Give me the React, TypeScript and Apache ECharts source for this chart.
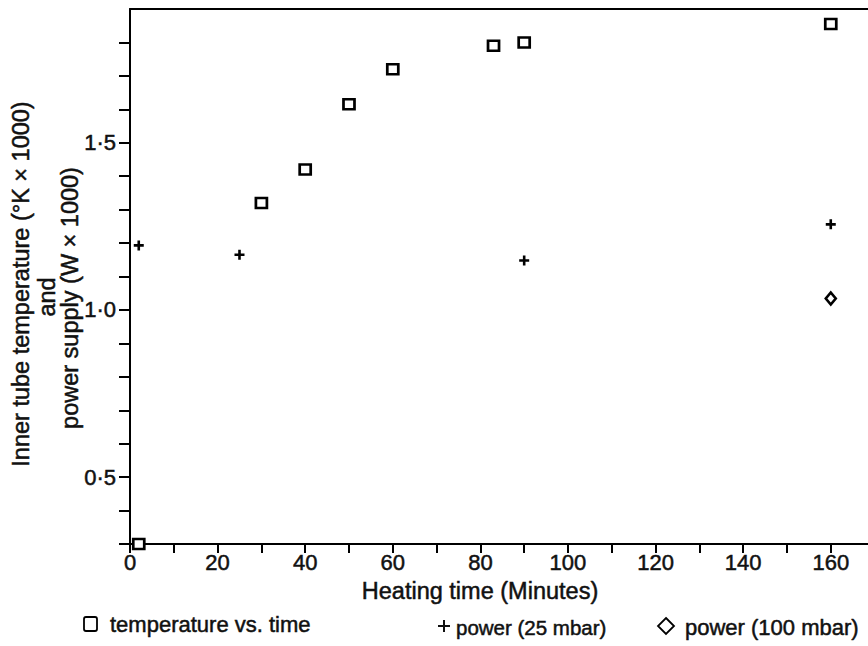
import React, { useEffect, useRef } from "react";
import * as echarts from "echarts";

// ---- data ----
const tempX = [2, 30, 40, 50, 60, 83, 90, 160];
const tempY = [0.3, 1.32, 1.42, 1.615, 1.72, 1.79, 1.8, 1.855];

const pow25X = [2, 25, 90, 160];
const pow25Y = [1.193, 1.165, 1.148, 1.256];

const pow100X = [160];
const pow100Y = [1.034];

const xTickValues = [0, 10, 20, 30, 40, 50, 60, 70, 80, 90, 100, 110, 120, 130, 140, 150, 160];
const xLabelValues = [0, 20, 40, 60, 80, 100, 120, 140, 160];
const yTickValues = [0.3, 0.4, 0.5, 0.6, 0.7, 0.8, 0.9, 1.0, 1.1, 1.2, 1.3, 1.4, 1.5, 1.6, 1.7, 1.8];
const yLabelValues = [0.5, 1.0, 1.5];

const xTitle = "Heating time (Minutes)";
const yTitleLines = ["Inner tube temperature (°K × 1000)", "and", "power supply (W × 1000)"];
const legendTexts = ["temperature vs. time", "power (25 mbar)", "power (100 mbar)"];

const FONT = '"Liberation Sans", Arial, Helvetica, sans-serif';
const INK = "#111";
const PLUS = "path://M3.7,0H6.3V3.7H10V6.3H6.3V10H3.7V6.3H0V3.7H3.7Z";

export default function App() {
  const ref = useRef<HTMLDivElement>(null);

  useEffect(() => {
    if (!ref.current) return;
    const chart = echarts.init(ref.current, null, { renderer: "svg" });

    const pairs = (xs: number[], ys: number[]) => xs.map((x, i) => [x, ys[i]]);

    const axisLineStyle = { color: "#000", width: 2 };
    const heavy = { textBorderColor: INK, textBorderWidth: 0.5 };
    const txt = (text: string, x: number, y: number, size: number, align: string, extra: any = {}) => ({
      type: "text",
      x,
      y,
      ...extra,
      style: {
        text,
        fontSize: size,
        fontFamily: FONT,
        fill: INK,
        stroke: INK,
        lineWidth: 0.5,
        textAlign: align,
        textVerticalAlign: "middle",
      },
    });

    chart.setOption({
      animation: false,
      backgroundColor: "#fff",
      grid: { left: 130, right: 0, top: 9, bottom: 102, containLabel: false, outerBoundsMode: "none" },
      xAxis: [
        {
          type: "value",
          min: 0,
          max: 168.5,
          position: "bottom",
          axisLine: { show: true, onZero: false, lineStyle: axisLineStyle },
          axisTick: { show: true, length: 9, customValues: xTickValues, lineStyle: { color: "#000", width: 2 } },
          axisLabel: {
            customValues: xLabelValues,
            margin: 7,
            fontSize: 22,
            fontFamily: FONT,
            color: INK,
            ...heavy,
          },
          splitLine: { show: false },
        },
        {
          type: "value",
          min: 0,
          max: 168.5,
          position: "top",
          axisLine: { show: true, onZero: false, lineStyle: axisLineStyle },
          axisTick: { show: false },
          axisLabel: { show: false },
          splitLine: { show: false },
        },
      ],
      yAxis: {
        type: "value",
        min: 0.3,
        max: 1.9,
        axisLine: { show: true, onZero: false, lineStyle: axisLineStyle },
        axisTick: { show: true, length: 11, customValues: yTickValues, lineStyle: { color: "#000", width: 2 } },
        axisLabel: {
          customValues: yLabelValues,
          margin: 14,
          fontSize: 22,
          fontFamily: FONT,
          color: INK,
          ...heavy,
          formatter: (v: number) => v.toFixed(1).replace(".", "·"),
        },
        splitLine: { show: false },
      },
      series: [
        {
          name: legendTexts[0],
          type: "scatter",
          symbol: "rect",
          symbolSize: [11, 10],
          itemStyle: { color: "#fff", borderColor: "#000", borderWidth: 2.6, opacity: 1 },
          data: pairs(tempX, tempY),
          clip: false,
          z: 5,
        },
        {
          name: legendTexts[1],
          type: "scatter",
          symbol: PLUS,
          symbolSize: 10,
          itemStyle: { color: "#000", opacity: 1 },
          data: pairs(pow25X, pow25Y),
          clip: false,
          z: 5,
        },
        {
          name: legendTexts[2],
          type: "scatter",
          symbol: "diamond",
          symbolSize: [10, 12],
          itemStyle: { color: "#fff", borderColor: "#000", borderWidth: 2.6, opacity: 1 },
          data: pairs(pow100X, pow100Y),
          clip: false,
          z: 5,
        },
      ],
      graphic: [
        txt(xTitle, 480, 591, 23.5, "center"),
        txt(yTitleLines[0], 21, 284, 23.5, "center", { rotation: Math.PI / 2 }),
        txt(yTitleLines[1], 47, 297, 23.5, "center", { rotation: Math.PI / 2 }),
        txt(yTitleLines[2], 70, 298, 23.5, "center", { rotation: Math.PI / 2 }),
        // legend: temperature
        {
          type: "rect",
          shape: { x: 84, y: 617, width: 13, height: 14, r: 2 },
          style: { fill: "#fff", stroke: "#000", lineWidth: 1.8 },
        },
        txt(legendTexts[0], 110, 624, 22, "left"),
        // legend: power 25
        {
          type: "polygon",
          shape: {
            points: [
              [443, 620], [445, 620], [445, 625], [450, 625], [450, 627], [445, 627],
              [445, 632], [443, 632], [443, 627], [438, 627], [438, 625], [443, 625],
            ],
          },
          style: { fill: INK },
        },
        txt(legendTexts[1], 456, 627, 20.5, "left"),
        // legend: power 100
        {
          type: "polygon",
          shape: { points: [[666, 618], [674, 626], [666, 634], [658, 626]] },
          style: { fill: "#fff", stroke: "#000", lineWidth: 1.8 },
        },
        txt(legendTexts[2], 685, 627, 22, "left"),
      ],
    });

    return () => chart.dispose();
  }, []);

  return <div ref={ref} style={{ position: "absolute", left: 0, top: 0, width: 868, height: 646 }} />;
}
